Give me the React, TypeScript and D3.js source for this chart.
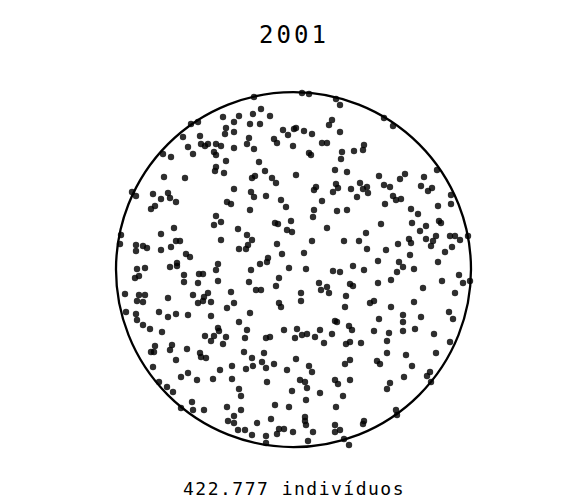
import { useEffect, useRef } from 'react';
import * as d3 from 'd3';

const title = '2001';
const countLabel = '422.777 indivíduos';

// circle in grid units (0..360 box)
const circleCenter: [number, number] = [179.5, 179.6];
const circleRadius = 177.5;

// one dot per ~1.000 indivíduos, positions (grid units)
const individuos: [number, number][] = [
  [109, 27], [120, 32], [77, 34], [84, 32], [112, 38], [111, 44], [120, 42], [69, 47], [86, 46], [87, 54],
  [91, 56], [94, 54], [102, 54], [107, 56], [74, 57], [120, 58], [100, 62], [102, 65], [79, 64], [49, 64],
  [57, 67], [112, 71], [102, 77], [101, 81], [110, 83], [50, 87], [71, 88], [120, 99], [18, 102], [22, 106],
  [39, 104], [54, 103], [56, 108], [47, 109], [62, 112], [113, 112], [117, 114], [41, 116], [37, 119],
  [140, 7], [188, 3], [195, 4], [222, 9], [226, 15], [125, 26], [139, 24], [147, 19], [156, 26], [136, 34],
  [146, 34], [218, 30], [215, 35], [169, 40], [180, 39], [182, 38], [190, 41], [198, 44], [226, 42], [174, 45],
  [135, 48], [160, 49], [163, 53], [133, 54], [208, 53], [213, 53], [179, 56], [140, 59], [195, 63], [197, 65],
  [228, 62], [227, 69], [240, 61], [145, 72], [151, 81], [221, 80], [233, 82], [182, 85], [138, 88], [141, 86],
  [158, 88], [162, 93], [222, 94], [224, 98], [202, 97], [200, 100], [137, 102], [140, 107], [152, 106], [219, 102],
  [237, 99], [167, 110], [208, 111], [172, 117], [136, 120], [200, 120], [223, 121], [233, 120],
  [270, 28], [279, 36], [250, 55], [249, 60], [323, 80], [265, 86], [291, 84], [286, 89], [310, 87], [246, 93],
  [270, 95], [276, 97], [253, 97], [249, 99], [254, 103], [307, 96], [318, 98], [314, 101], [243, 107], [279, 106],
  [282, 110], [287, 109], [337, 105], [271, 114], [324, 116], [337, 114], [297, 119],
  [102, 126], [107, 132], [100, 135], [60, 138], [7, 145], [47, 144], [6, 154], [22, 155], [29, 156], [33, 158],
  [22, 161], [62, 151], [66, 151], [107, 150], [57, 157], [47, 160], [72, 164], [76, 167], [63, 173], [63, 176],
  [56, 177], [104, 174], [102, 180], [23, 179], [31, 178], [25, 186], [21, 188], [70, 185], [85, 184], [89, 184],
  [104, 191], [70, 192], [84, 193], [11, 204], [25, 205], [31, 205], [54, 208], [79, 205], [94, 203], [90, 207],
  [89, 211], [84, 213], [97, 212], [117, 202], [23, 211], [29, 212], [120, 213], [113, 218], [12, 222], [45, 222],
  [22, 224], [62, 224], [54, 227], [74, 225], [97, 226], [23, 230], [29, 235], [36, 239], [104, 238],
  [199, 127], [161, 133], [164, 134], [177, 131], [124, 139], [173, 140], [178, 142], [213, 138], [133, 145], [138, 150],
  [134, 155], [132, 159], [125, 159], [163, 154], [198, 151], [230, 151], [168, 164], [190, 163], [154, 168], [153, 172],
  [146, 174], [239, 176], [137, 180], [175, 178], [192, 179], [219, 181], [226, 182], [165, 188], [135, 192], [162, 196],
  [142, 200], [147, 200], [205, 193], [207, 200], [213, 197], [215, 203], [236, 194], [239, 196], [187, 203], [232, 206],
  [165, 213], [167, 217], [187, 211], [231, 217], [136, 223], [125, 232], [221, 231], [223, 232], [133, 240], [170, 240],
  [183, 239], [206, 240], [235, 236], [238, 240],
  [304, 124], [267, 134], [298, 133], [312, 136], [325, 131], [327, 133], [306, 141], [252, 143], [245, 151], [295, 149],
  [297, 153], [312, 149], [319, 151], [322, 146], [317, 156], [336, 146], [341, 146], [346, 150], [354, 146], [284, 154],
  [253, 159], [272, 160], [338, 157], [331, 162], [296, 165], [264, 171], [285, 172], [289, 177], [283, 182], [324, 172],
  [250, 180], [300, 179], [345, 185], [356, 191], [349, 193], [328, 191], [277, 190], [264, 193], [309, 198], [341, 203],
  [260, 211], [256, 213], [300, 212], [277, 217], [335, 222], [339, 229], [289, 225], [289, 232], [307, 227], [265, 229],
  [301, 239], [289, 241], [260, 241],
  [48, 242], [91, 246], [100, 246], [97, 251], [105, 241], [112, 247], [109, 254], [41, 256], [37, 262], [40, 262],
  [58, 255], [56, 260], [73, 259], [86, 263], [87, 267], [92, 268], [62, 270], [39, 277], [106, 280], [118, 276],
  [74, 283], [67, 287], [83, 290], [99, 289], [118, 289], [45, 292], [53, 297], [59, 302], [78, 312], [67, 318],
  [79, 320], [90, 320], [113, 317], [120, 326], [114, 331], [120, 333],
  [188, 245], [193, 244], [201, 247], [218, 244], [152, 248], [156, 247], [131, 248], [181, 248], [210, 253], [232, 254],
  [236, 252], [130, 262], [150, 263], [138, 268], [148, 272], [152, 278], [139, 276], [132, 279], [160, 274], [182, 269],
  [195, 276], [198, 282], [173, 280], [231, 274], [236, 270], [153, 292], [186, 290], [191, 292], [193, 298], [221, 290],
  [224, 294], [236, 290], [125, 299], [127, 306], [178, 301], [206, 303], [229, 306], [192, 310], [161, 315], [175, 317],
  [222, 317], [127, 320], [191, 327], [191, 331], [192, 335], [157, 329], [143, 333], [124, 340], [131, 340], [165, 339],
  [170, 339], [179, 342], [199, 342], [221, 335], [221, 342], [226, 340], [138, 345], [152, 346], [163, 344], [194, 351],
  [230, 349], [235, 355], [152, 353],
  [275, 243], [320, 244], [247, 253], [273, 251], [336, 252], [273, 263], [292, 265], [322, 263], [263, 271], [266, 274],
  [298, 276], [290, 287], [313, 286], [316, 282], [317, 292], [276, 293], [273, 299], [282, 320], [283, 325], [250, 331],
  [249, 334],
];

export default function App() {
  const svgRef = useRef<SVGSVGElement | null>(null);

  useEffect(() => {
    if (!svgRef.current) return;
    const svg = d3.select(svgRef.current);
    svg.selectAll('*').remove();

    const width = 588;
    const box = { left: 114, top: 90, size: 360 };

    const x = d3.scaleLinear().domain([0, 360]).range([box.left, box.left + box.size]);
    const y = d3.scaleLinear().domain([0, 360]).range([box.top, box.top + box.size]);
    const r = x(circleRadius) - x(0);

    const font = '"DejaVu Sans Mono", monospace';

    // Title
    svg.append('text')
      .attr('x', width / 2).attr('y', 43)
      .attr('text-anchor', 'middle')
      .attr('font-family', font)
      .attr('font-size', '24px')
      .attr('letter-spacing', '3px')
      .attr('fill', '#000')
      .text(title);

    // Dots
    svg.append('g')
      .selectAll('circle')
      .data(individuos)
      .join('circle')
      .attr('cx', d => x(d[0]))
      .attr('cy', d => y(d[1]))
      .attr('r', 3.2)
      .attr('fill', '#000')
      .attr('fill-opacity', 0.82);

    // Outline
    svg.append('circle')
      .attr('cx', x(circleCenter[0]))
      .attr('cy', y(circleCenter[1]))
      .attr('r', r)
      .attr('fill', 'none')
      .attr('stroke', '#000')
      .attr('stroke-width', 2.3);

    // Count
    svg.append('text')
      .attr('x', width / 2).attr('y', 495)
      .attr('text-anchor', 'middle')
      .attr('font-family', font)
      .attr('font-size', '18px')
      .attr('letter-spacing', '1.5px')
      .attr('fill', '#000')
      .text(countLabel);
  }, []);

  return (
    <svg
      ref={svgRef}
      width={588}
      height={504}
      style={{ position: 'absolute', left: 0, top: 0, background: '#fff' }}
    />
  );
}
